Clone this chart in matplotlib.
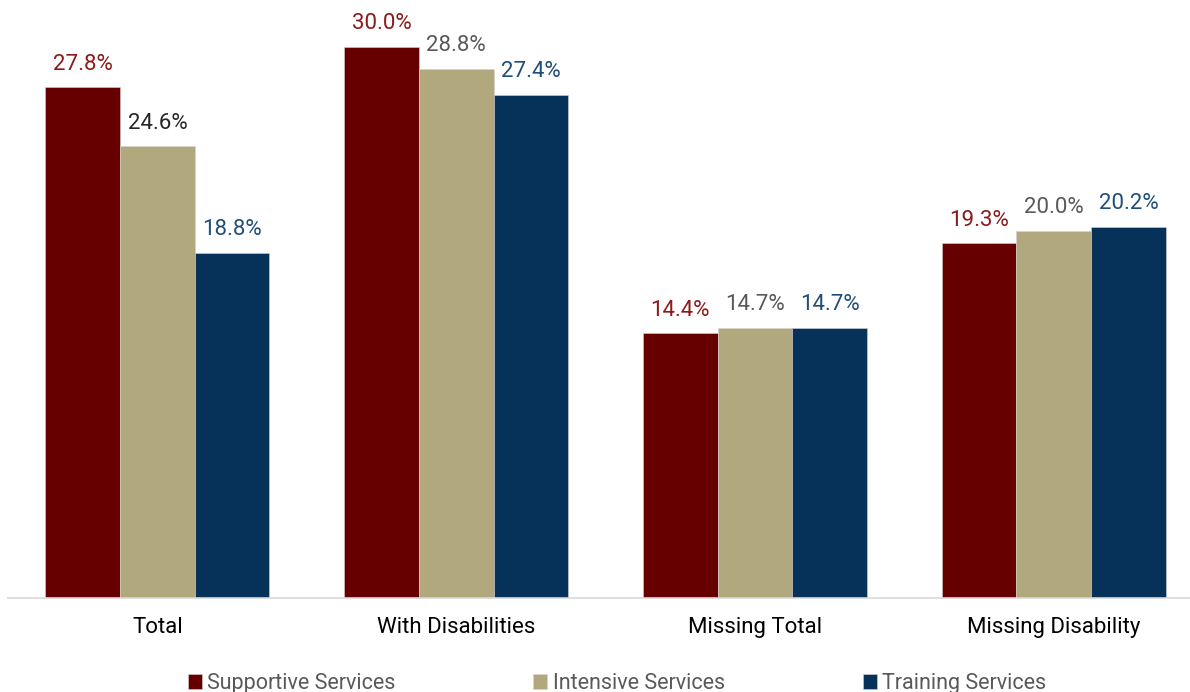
import matplotlib.pyplot as plt
import numpy as np

plt.rcParams['font.family'] = ['Roboto', 'DejaVu Sans']

categories = ["Total", "With Disabilities", "Missing Total", "Missing Disability"]
series_names = ["Supportive Services", "Intensive Services", "Training Services"]
supportive = [27.8, 30.0, 14.4, 19.3]
intensive = [24.6, 28.8, 14.7, 20.0]
training = [18.8, 27.4, 14.7, 20.2]

bar_colors = ["#660000", "#B2A87E", "#06325A"]
label_colors = ["#8B1A1A", "#595959", "#1F4E79"]

fig = plt.figure(figsize=(11.9, 6.92), dpi=100)
ax = fig.add_axes([8 / 1190, 94 / 692, 1 - 8 / 1190, 1 - 94 / 692])

x = np.arange(len(categories))
width = 0.25
for i, (vals, name) in enumerate(zip([supportive, intensive, training], series_names)):
    pos = x + (i - 1) * width
    bars = ax.bar(pos, vals, width, color=bar_colors[i], label=name,
                  edgecolor="#d8d0d0", linewidth=0.4)
    for b, v in zip(bars, vals):
        col = label_colors[i]
        if i == 1 and v == 24.6:
            col = "#262626"
        ax.annotate(f"{v:.1f}%", (b.get_x() + b.get_width() / 2, v),
                    xytext=(0, 9), textcoords="offset points",
                    ha="center", va="bottom", fontsize=16, color=col)

ax.set_xlim(-0.5, 3.456)
ax.set_ylim(0, 32.55)
ax.set_yticks([])
ax.set_xticks(x)
ax.set_xticklabels(categories, fontsize=16, color="#000000")
ax.tick_params(axis="x", length=0, pad=14)
for s in ["top", "right", "left"]:
    ax.spines[s].set_visible(False)
ax.spines["bottom"].set_color("#D9D9D9")
ax.spines["bottom"].set_linewidth(1.2)

fig.legend(loc="center", bbox_to_anchor=(0.5185, 0.012), ncol=3, frameon=False,
           fontsize=15.5, handlelength=0.65, handleheight=0.65, handletextpad=0.25,
           columnspacing=6.4, labelcolor="#595959")

fig.savefig("out.png", dpi=100)
